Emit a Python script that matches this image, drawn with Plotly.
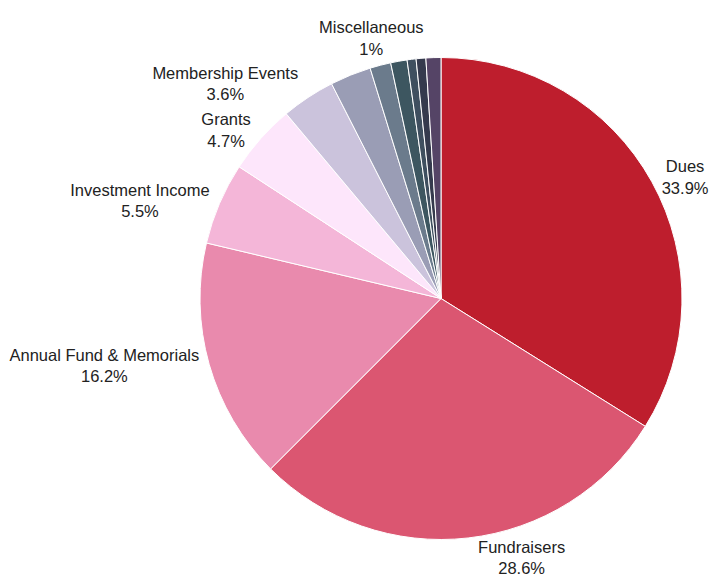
import plotly.graph_objects as go

categories = ["Dues", "Fundraisers", "Annual Fund & Memorials", "Investment Income",
              "Grants", "Membership Events", "Other 1", "Other 2", "Other 3",
              "Other 4", "Other 5", "Miscellaneous"]
percents = [33.9, 28.6, 16.2, 5.5, 4.7, 3.6, 2.75, 1.4, 1.1, 0.6, 0.65, 1.0]
show_label = [True, True, True, True, True, True, False, False, False, False, False, True]
colors = ["#be1e2d", "#db5671", "#e98aad", "#f4b6d8", "#fde6fb", "#cbc3dc",
          "#9a9db5", "#6b7b8c", "#3d5660", "#3f4f5f", "#353a4d", "#554466"]

texts = [f"{c}<br>{p:g}%" if s else "" for c, p, s in zip(categories, percents, show_label)]

fig = go.Figure(go.Pie(
    labels=categories,
    values=percents,
    text=texts,
    textinfo="text",
    textposition="outside",
    sort=False,
    direction="clockwise",
    rotation=0,
    marker=dict(colors=colors, line=dict(color="white", width=1)),
    textfont=dict(family="Liberation Sans, Arial, sans-serif", size=16.5, color="#222"),
    showlegend=False,
    hoverinfo="label+percent",
))

fig.update_layout(
    width=714, height=586,
    margin=dict(l=200, r=22, t=56, b=38),
    paper_bgcolor="white",
    plot_bgcolor="white",
    font=dict(family="Liberation Sans, Arial, sans-serif", size=16.5, color="#222"),
)

fig.write_html(
    "out.html",
    config={"displayModeBar": False},
    post_script="document.body.style.margin='0';document.body.style.overflow='hidden';",
)
